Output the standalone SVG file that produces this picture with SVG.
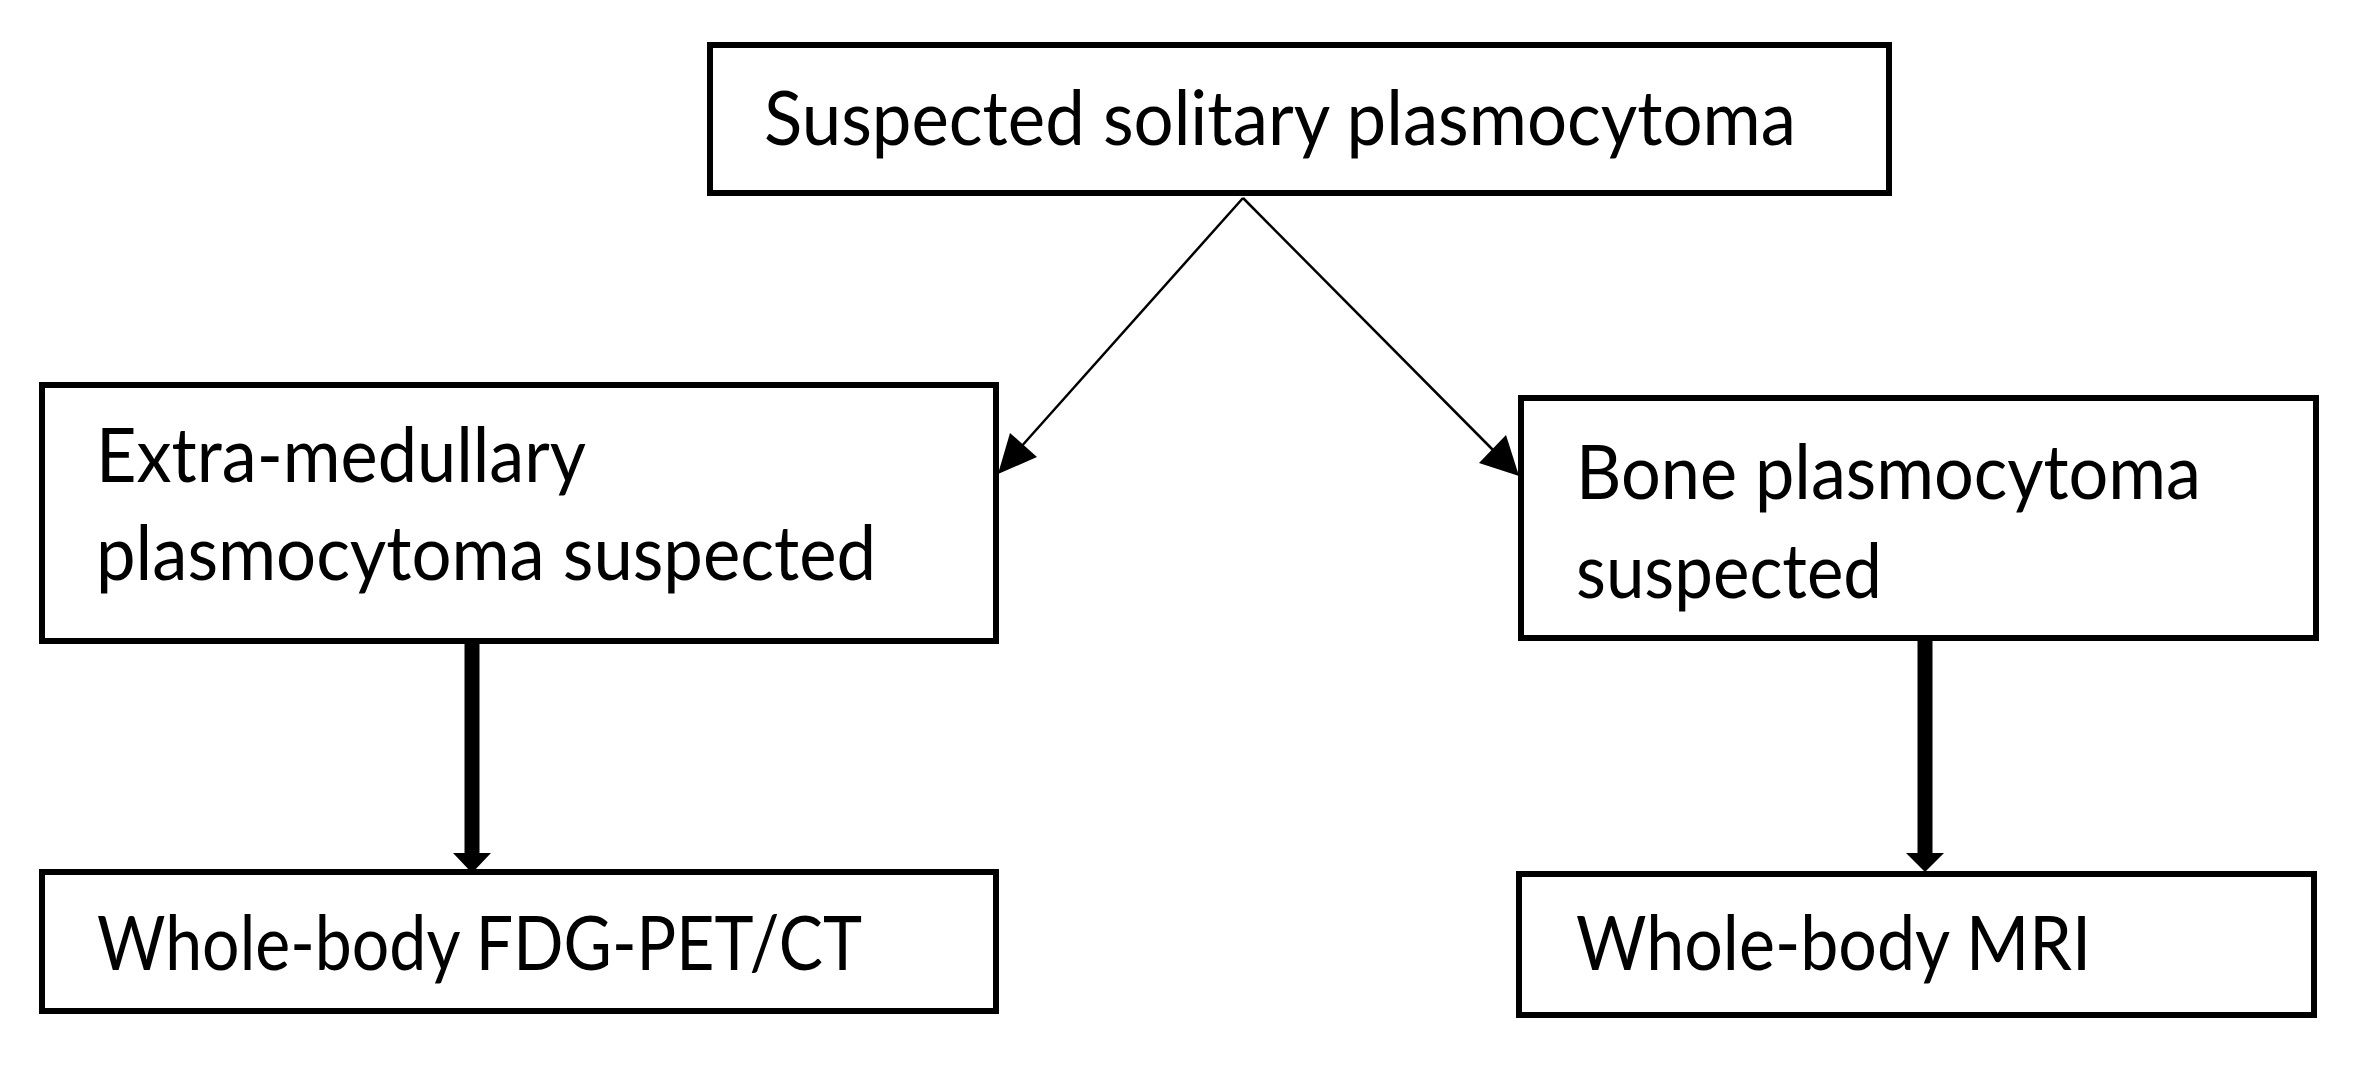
<svg xmlns="http://www.w3.org/2000/svg" width="2368" height="1081" viewBox="0 0 2368 1081">
<style>
.box{fill:#fff;stroke:#000;stroke-width:6}
.t{font-family:Lato,"Liberation Sans",sans-serif;font-size:75px;fill:#000}
.thin{stroke:#000;stroke-width:2.5;fill:none}
.thick{stroke:#000;stroke-width:15;fill:none}
.head{fill:#000}
</style>
<rect width="2368" height="1081" fill="#fff"/>
<g id="connectors">
<line class="thin" x1="1243" y1="198" x2="1020" y2="448"/>
<polygon class="head" points="998,474 1010,433 1037,457"/>
<line class="thin" x1="1243" y1="198" x2="1494" y2="451"/>
<polygon class="head" points="1519,476 1479,463 1506,435"/>
<line class="thick" x1="472" y1="644" x2="472" y2="856"/>
<polygon class="head" points="453,853 491,853 472,873"/>
<line class="thick" x1="1925" y1="641" x2="1925" y2="856"/>
<polygon class="head" points="1906,853 1944,853 1925,872"/>
</g>
<g id="n1">
<rect class="box" x="710" y="45" width="1179" height="148"/>
<text class="t" x="764" y="145" textLength="1032" lengthAdjust="spacingAndGlyphs">Suspected solitary plasmocytoma</text>
</g>
<g id="n2">
<rect class="box" x="42" y="385" width="954" height="256"/>
<text class="t" x="96" y="482" textLength="490" lengthAdjust="spacingAndGlyphs">Extra-medullary</text>
<text class="t" x="96" y="580" textLength="780" lengthAdjust="spacingAndGlyphs">plasmocytoma suspected</text>
</g>
<g id="n3">
<rect class="box" x="1521" y="398" width="795" height="240"/>
<text class="t" x="1576" y="499" textLength="625" lengthAdjust="spacingAndGlyphs">Bone plasmocytoma</text>
<text class="t" x="1576" y="598" textLength="306" lengthAdjust="spacingAndGlyphs">suspected</text>
</g>
<g id="n4">
<rect class="box" x="42" y="872" width="954" height="139"/>
<text class="t" x="97" y="970" textLength="765" lengthAdjust="spacingAndGlyphs">Whole-body FDG-PET/CT</text>
</g>
<g id="n5">
<rect class="box" x="1519" y="874" width="795" height="141"/>
<text class="t" x="1576" y="970" textLength="515" lengthAdjust="spacingAndGlyphs">Whole-body MRI</text>
</g>
</svg>
